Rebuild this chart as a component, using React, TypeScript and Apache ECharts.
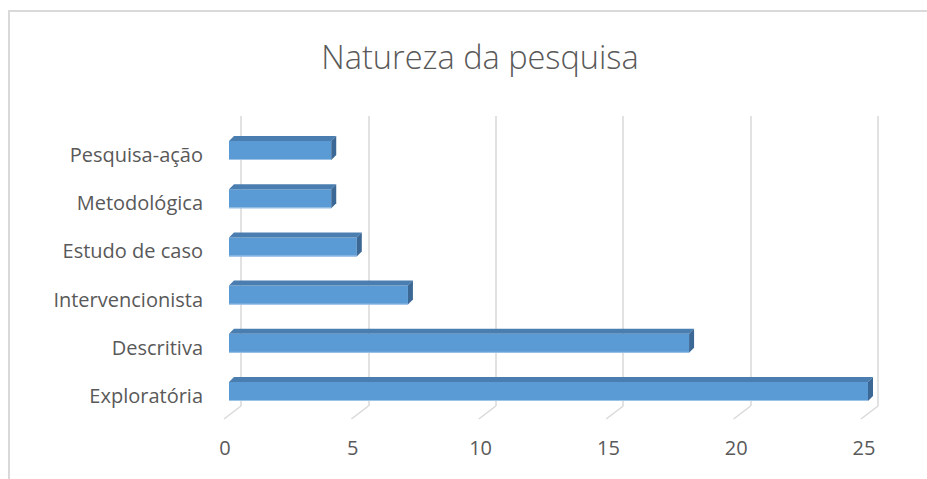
import React, { useEffect, useRef } from "react";
import * as echarts from "echarts";

const categories = ["Exploratória", "Descritiva", "Intervencionista", "Estudo de caso", "Metodológica", "Pesquisa-ação"];
const values = [25, 18, 7, 5, 4, 4];
const tickValues = [0, 5, 10, 15, 20, 25];
const titleText = "Natureza da pesquisa";

const FONT = "'Open Sans', 'Noto Sans', sans-serif";

export default function App() {
  const ref = useRef<HTMLDivElement>(null);
  useEffect(() => {
    if (!ref.current) return;
    const chart = echarts.init(ref.current, undefined, { renderer: "svg" });
    const barH = 19;
    const dx = 5;
    const dy = 5;
    chart.setOption({
      animation: false,
      backgroundColor: "#ffffff",
      title: {
        text: titleText,
        left: 475,
        textAlign: "center",
        top: 35,
        textStyle: { fontFamily: FONT, fontSize: 32.5, fontWeight: 300, color: "#595959" },
      },
      graphic: [
        {
          type: "rect",
          shape: { x: 9, y: 11, width: 1000, height: 1000 },
          style: { fill: "none", stroke: "#d9d9d9", lineWidth: 2 },
          silent: true,
        },
      ],
      grid: [
        { left: 229, right: 59, top: 126.4, bottom: 63.4 },
        { left: 241, right: 49, top: 116, bottom: 73 },
      ],
      xAxis: [
        {
          gridIndex: 0,
          type: "value",
          min: 0,
          max: 25,
          interval: 5,
          axisLine: { show: false },
          axisTick: { show: false },
          splitLine: { show: false },
          axisLabel: {
            fontFamily: FONT,
            fontSize: 20,
            color: "#595959",
            margin: 22,
            padding: [0, 8, 0, 0],
          },
        },
        {
          gridIndex: 1,
          type: "value",
          min: 0,
          max: 25,
          interval: 5,
          axisLine: { show: false },
          axisTick: { show: false },
          axisLabel: { show: false },
          splitLine: { show: true, lineStyle: { color: "#d9d9d9", width: 1.5 } },
        },
      ],
      yAxis: [
        {
          gridIndex: 0,
          type: "category",
          data: categories,
          axisLine: { show: false },
          axisTick: { show: false },
          splitLine: { show: false },
          axisLabel: {
            margin: 26,
            formatter: (v: string) => "{a|" + v + "}",
            rich: {
              a: {
                fontFamily: FONT,
                fontSize: 20,
                color: "#595959",
                padding: [8, 0, 0, 0],
              },
            },
          },
        },
        {
          gridIndex: 1,
          type: "value",
          min: 0,
          max: 1,
          show: false,
        },
      ],
      series: [
        {
          type: "custom",
          xAxisIndex: 1,
          yAxisIndex: 1,
          data: tickValues.map((v) => [v, 0]),
          silent: true,
          renderItem: (params: any, api: any) => {
            const p = api.coord([api.value(0), 0]);
            return {
              type: "line",
              shape: { x1: p[0], y1: p[1], x2: p[0] - 17, y2: p[1] + 13 },
              style: { stroke: "#d9d9d9", lineWidth: 1.5 },
            };
          },
        },
        {
          type: "custom",
          xAxisIndex: 0,
          yAxisIndex: 0,
          data: values.map((v, i) => [v, i]),
          renderItem: (params: any, api: any) => {
            const s = api.coord([0, api.value(1)]);
            const e = api.coord([api.value(0), api.value(1)]);
            const x0 = s[0];
            const x1 = e[0];
            const top = s[1] - barH / 2;
            const bottom = s[1] + barH / 2;
            return {
              type: "group",
              children: [
                {
                  type: "rect",
                  shape: { x: x0, y: top, width: x1 - x0, height: barH },
                  style: { fill: "#5b9bd5" },
                },
                {
                  type: "line",
                  shape: { x1: x0, y1: bottom - 0.5, x2: x1, y2: bottom - 0.5 },
                  style: { stroke: "#9dc3e6", lineWidth: 1 },
                },
                {
                  type: "polygon",
                  shape: {
                    points: [
                      [x0, top],
                      [x0 + dx, top - dy],
                      [x1 + dx, top - dy],
                      [x1, top],
                    ],
                  },
                  style: { fill: "#4a7eb0" },
                },
                {
                  type: "polygon",
                  shape: {
                    points: [
                      [x1, top],
                      [x1 + dx, top - dy],
                      [x1 + dx, bottom - dy],
                      [x1, bottom],
                    ],
                  },
                  style: { fill: "#3b6894" },
                },
              ],
            };
          },
        },
      ],
    });
    return () => chart.dispose();
  }, []);
  return (
    <div
      ref={ref}
      style={{ position: "absolute", left: 0, top: 0, width: 927, height: 479 }}
    />
  );
}
